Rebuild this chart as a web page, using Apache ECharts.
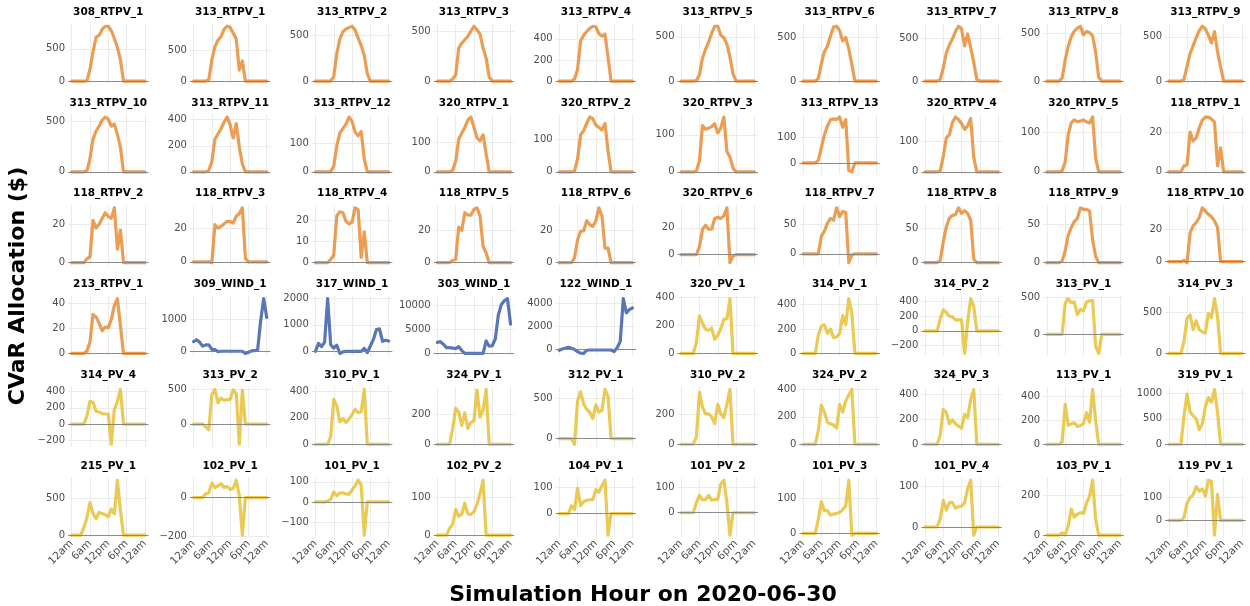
<!DOCTYPE html>
<html>
<head>
<meta charset="utf-8">
<script src="https://cdn.jsdelivr.net/npm/echarts@6/dist/echarts.min.js"></script>
<style>
  html, body { margin: 0; padding: 0; background: #fff; }
  #chart { width: 1250px; height: 606px; }
</style>
</head>
<body>
<div id="chart"></div>
<script>
// hourly points on 2020-06-30
const hours = [0, 1, 2, 3, 4, 5, 6, 7, 8, 9, 10, 11, 12, 13, 14, 15, 16, 17, 18, 19, 20, 21, 22, 23, 24];
const hourTicks = [0, 6, 12, 18, 24];
const hourLabels = ['12am', '6am', '12pm', '6pm', '12am'];

const panelNames = [
  '308_RTPV_1', '313_RTPV_1', '313_RTPV_2', '313_RTPV_3', '313_RTPV_4', '313_RTPV_5', '313_RTPV_6', '313_RTPV_7', '313_RTPV_8', '313_RTPV_9',
  '313_RTPV_10', '313_RTPV_11', '313_RTPV_12', '320_RTPV_1', '320_RTPV_2', '320_RTPV_3', '313_RTPV_13', '320_RTPV_4', '320_RTPV_5', '118_RTPV_1',
  '118_RTPV_2', '118_RTPV_3', '118_RTPV_4', '118_RTPV_5', '118_RTPV_6', '320_RTPV_6', '118_RTPV_7', '118_RTPV_8', '118_RTPV_9', '118_RTPV_10',
  '213_RTPV_1', '309_WIND_1', '317_WIND_1', '303_WIND_1', '122_WIND_1', '320_PV_1', '314_PV_1', '314_PV_2', '313_PV_1', '314_PV_3',
  '314_PV_4', '313_PV_2', '310_PV_1', '324_PV_1', '312_PV_1', '310_PV_2', '324_PV_2', '324_PV_3', '113_PV_1', '319_PV_1',
  '215_PV_1', '102_PV_1', '101_PV_1', '102_PV_2', '104_PV_1', '101_PV_2', '101_PV_3', '101_PV_4', '103_PV_1', '119_PV_1'
];

// y tick spacing of each panel, as printed
const yStep = [
  500, 500, 500, 500, 200, 500, 500, 500, 500, 500,
  500, 200, 100, 100, 100, 100, 100, 100, 100, 20,
  20, 20, 10, 20, 20, 20, 50, 50, 50, 20,
  20, 1000, 1000, 5000, 2000, 200, 200, 200, 500, 500,
  200, 500, 200, 200, 500, 200, 200, 200, 200, 500,
  500, 200, 100, 100, 100, 100, 100, 100, 200, 100
];

// CVaR allocation ($), one list per panel, hours 0..24
const row1 = [
  [0,0,0,0,0,5,180,450,680,710,800,850,850,780,660,520,330,0,0,0,0,0,0,0,0],
  [0,0,0,0,0,20,350,560,670,730,850,900,880,790,690,180,330,0,0,0,0,0,0,0,0],
  [0,0,0,0,0,0,50,300,460,540,570,585,600,560,470,390,280,80,0,0,0,0,0,0,0],
  [0,0,0,0,0,20,60,330,380,415,450,500,550,515,470,330,230,40,0,0,0,0,0,0,0],
  [0,0,0,0,0,20,110,380,435,470,500,520,515,450,425,445,225,0,0,0,0,0,0,0,0],
  [0,0,0,0,0,5,70,260,360,440,540,620,620,520,490,420,270,80,0,0,0,0,0,0,0],
  [0,0,0,0,0,30,200,340,400,520,620,630,580,460,500,370,190,0,0,0,0,0,0,0,0],
  [0,0,0,0,0,20,150,330,420,490,580,640,610,410,550,390,220,20,0,0,0,0,0,0,0],
  [0,0,0,0,0,30,220,360,460,520,550,570,480,515,505,470,300,40,0,0,0,0,0,0,0],
  [0,0,0,0,0,20,170,310,400,490,570,620,590,520,430,560,330,160,0,0,0,0,0,0,0]
];
const row2 = [
  [0,0,0,0,0,10,130,320,400,450,510,540,520,450,470,370,240,0,0,0,0,0,0,0,0],
  [0,0,0,0,0,10,80,250,290,330,380,420,360,260,370,190,60,0,0,0,0,0,0,0,0],
  [0,0,0,0,0,0,20,90,135,150,165,190,175,138,125,140,45,0,0,0,0,0,0,0,0],
  [0,0,0,0,0,5,35,110,130,150,175,185,150,115,105,125,60,0,0,0,0,0,0,0,0],
  [0,0,0,0,0,2,40,115,128,150,170,165,145,138,130,150,65,0,0,0,0,0,0,0,0],
  [0,0,0,0,0,2,30,125,115,118,122,130,105,118,148,55,40,10,0,0,0,0,0,0,0],
  [0,0,0,0,0,10,60,110,145,170,173,170,180,140,170,-30,-35,0,0,0,0,0,0,0,0],
  [0,0,0,0,0,3,50,110,120,160,178,170,157,138,150,173,47,0,0,0,0,0,0,0,0],
  [0,0,0,0,0,2,25,95,125,133,128,130,132,128,125,140,35,0,0,0,0,0,0,0,0],
  [0,0,0,0,0,3,3.5,20,15.5,17,22,26,27.5,27.5,26.5,25,3,12,0,0,0,0,0,0,0]
];
const row3 = [
  [0,0,0,0,0,2,3,22,18,20,23,26,24,23,28.5,7,17,0,0,0,0,0,0,0,0],
  [0,0,0,0,0,0,-0.5,22,20,21,22.5,24,24,23,27,28.5,32,2,0,0,0,0,0,0,0],
  [0,0,0,0,0,1.5,3.5,22,24,23.5,19.5,18.3,19,25.8,25,2.5,14.5,0,0,0,0,0,0,0,0],
  [0,0,0,0,0,1.5,2,22,20,31,29.5,29.5,33,34,29,10,6,0,0,0,0,0,0,0,0],
  [0,0,0,0,0,3,14,19.4,19.8,26,23.5,22.5,26,34,29,9,9,0,0,0,0,0,0,0,0],
  [0,0,0,0,0,0,6,19,22,19,19,27,28,27,29,35,-6,-1,0,0,0,0,0,0,0],
  [0,0,0,0,0,0,30,38,52,60,57,78,63,72,70,-15,-2,0,0,0,0,0,0,0,0],
  [0,0,0,0,0,3,30,52,65,69,70,80,72,76,72,62,5,0,0,0,0,0,0,0,0],
  [0,0,0,0,0,2,15,36,46,54,58,72,70,70,68,30,8,0,0,0,0,0,0,0,0],
  [0,0,0,0,0,0.8,-0.6,17.6,22,24,27,33,31,29,27.5,25,21,0,0,0,0,0,0,0,0]
];
const row4 = [
  [0,0,0,0,0,2,9,31,29,24,18,21,20.5,27,38,43.5,22,0,0,0,0,0,0,0,0],
  [300,360,280,160,200,200,60,50,-10,0,0,0,0,0,0,0,0,-70,-30,10,20,30,950,1650,1060],
  [0,300,180,350,1990,250,120,230,-80,-20,0,0,0,0,0,0,110,-50,200,450,820,850,380,420,390],
  [2300,2450,1900,1200,1200,1100,1000,1400,600,0,0,0,0,0,0,0,2600,1500,1600,3000,8000,10200,11000,11400,6100],
  [-80,20,100,180,100,-20,-200,-330,-360,-80,-60,-60,-60,-60,-60,-60,-60,-60,-190,140,690,4400,3170,3450,3590],
  [0,0,0,0,0,80,265,215,170,165,180,100,130,175,245,245,390,0,0,0,0,0,0,0,0],
  [0,0,0,0,0,150,225,235,165,200,130,135,165,310,235,450,330,0,0,0,0,0,0,0,0],
  [0,0,0,0,0,160,285,250,200,190,150,150,150,-310,120,440,330,0,0,0,0,0,0,0,0],
  [0,0,0,0,0,0,420,485,430,440,270,340,320,440,455,460,-160,-260,0,0,0,0,0,0,0],
  [0,0,0,0,0,150,430,470,290,400,290,265,250,490,440,670,450,0,0,0,0,0,0,0,0]
];
const row5 = [
  [0,0,0,0,0,100,280,265,160,150,130,125,125,-245,180,280,425,0,0,0,0,0,0,0,0],
  [0,0,0,0,-40,-80,420,495,305,370,340,350,350,487,440,-287,487,0,0,0,0,0,0,0,0],
  [0,0,0,0,0,60,340,290,170,195,165,190,225,265,240,245,415,0,0,0,0,0,0,0,0],
  [0,0,0,0,0,100,240,215,125,210,105,145,155,360,180,230,365,0,0,0,0,0,0,0,0],
  [0,0,0,0,0,-70,470,580,430,365,325,250,420,330,350,610,520,0,0,0,0,0,0,0,0],
  [0,0,0,0,0,50,350,250,205,205,185,140,270,205,180,270,370,0,0,0,0,0,0,0,0],
  [0,0,0,0,0,100,285,235,160,150,140,118,290,235,315,360,400,0,0,0,0,0,0,0,0],
  [0,0,0,0,0,70,280,255,165,195,165,145,130,240,215,360,440,0,0,0,0,0,0,0,0],
  [0,0,0,0,0,20,335,160,170,180,150,155,175,265,185,460,200,0,0,0,0,0,0,0,0],
  [0,0,0,0,0,560,990,640,560,500,290,400,740,920,830,1080,630,0,0,0,0,0,0,0,0]
];
const row6 = [
  [0,0,0,0,100,230,440,290,220,305,290,275,245,350,285,740,330,0,0,0,0,0,0,0,0],
  [0,0,0,0,20,25,75,52,60,72,52,58,42,48,90,10,-195,0,0,0,0,0,0,0,0],
  [0,0,0,0,5,13,50,30,45,45,40,38,60,80,108,85,-165,0,0,0,0,0,0,0,0],
  [0,0,0,0,18,28,68,50,56,85,56,55,62,82,110,146,0,0,0,0,0,0,0,0,0],
  [0,0,0,0,30,15,95,30,45,50,52,52,90,80,105,125,-80,0,0,0,0,0,0,0,0],
  [0,0,0,0,0,40,68,50,52,68,50,52,52,112,128,40,-88,0,0,0,0,0,0,0,0],
  [0,0,0,0,0,40,90,65,65,52,55,57,60,68,78,152,-5,0,0,0,0,0,0,0,0],
  [0,0,0,0,0,20,66,42,60,61,47,50,52,60,95,116,-20,0,0,0,0,0,0,0,0],
  [0,0,0,0,0,12,0,45,130,90,105,112,108,160,195,275,80,0,0,0,0,0,0,0,0],
  [0,0,0,0,0,12,75,97,110,145,125,135,105,172,167,-63,111,0,0,0,0,0,0,0,0]
];

const values = [...row1, ...row2, ...row3, ...row4, ...row5, ...row6];

const FONT = 'DejaVu Sans';
const colorFor = name => name.includes('RTPV') ? '#e88c35' : (name.includes('WIND') ? '#3d5fa8' : '#e6c136');
const fmtNum = v => (v < 0 ? '\u2212' + Math.abs(v) : String(Math.abs(v) < 1e-9 ? 0 : v));

function niceTicks(lo, hi, step) {
  const out = [];
  for (let v = Math.ceil(lo / step) * step; v <= hi + 1e-9; v += step) {
    out.push(Math.round(v * 1000) / 1000);
  }
  return out;
}

const chart = echarts.init(document.getElementById('chart'), null, { renderer: 'canvas' });

const option = {
  animation: false,
  backgroundColor: '#ffffff',
  textStyle: { fontFamily: FONT },
  grid: [],
  xAxis: [],
  yAxis: [],
  series: [],
  graphic: []
};

const colPitch = 121.9, rowPitch = 90.8;
const panelW = 80.5, panelH = 60.3;

panelNames.forEach((name, i) => {
  const r = Math.floor(i / 10), c = i % 10;
  const left = 68 + colPitch * c;
  const top = 23.5 + rowPitch * r;
  const vals = values[i];
  const lo = Math.min(...vals), hi = Math.max(...vals);
  const pad = (hi - lo) * 0.05;
  const yMin = lo - pad, yMax = hi + pad;
  const ticks = niceTicks(yMin, yMax, yStep[i]);

  option.grid.push({ left: left, top: top, width: panelW, height: panelH });

  option.xAxis.push({
    gridIndex: i,
    type: 'value',
    min: -1.2,
    max: 25.2,
    axisLine: { show: false },
    axisTick: { show: false, customValues: hourTicks },
    axisLabel: {
      show: r === 5,
      customValues: hourTicks,
      rotate: 45,
      margin: 4,
      fontSize: 10.5,
      color: '#4d4d4d',
      fontFamily: FONT,
      formatter: v => hourLabels[hourTicks.indexOf(v)] || ''
    },
    splitLine: { show: true, lineStyle: { color: '#ebebeb', width: 1 } }
  });

  option.yAxis.push({
    gridIndex: i,
    type: 'value',
    min: yMin,
    max: yMax,
    axisLine: { show: false },
    axisTick: { show: false, customValues: ticks },
    axisLabel: {
      customValues: ticks,
      margin: 3,
      fontSize: 10,
      color: '#4d4d4d',
      fontFamily: FONT,
      formatter: fmtNum
    },
    splitLine: { show: true, lineStyle: { color: '#ebebeb', width: 1 } }
  });

  option.series.push({
    type: 'line',
    name: name,
    xAxisIndex: i,
    yAxisIndex: i,
    data: hours.map((h, k) => [h, vals[k]]),
    symbol: 'none',
    showSymbol: false,
    silent: true,
    z: 3,
    lineStyle: { color: colorFor(name), width: 3.2, opacity: 0.85, join: 'round', cap: 'round' },
    markLine: {
      silent: true,
      symbol: 'none',
      label: { show: false },
      lineStyle: { color: '#7f7f7f', width: 1, type: 'solid', opacity: 0.9 },
      data: [{ yAxis: 0 }]
    }
  });

  option.graphic.push({
    type: 'text',
    x: left + panelW / 2,
    y: 12 + rowPitch * r,
    style: {
      text: name,
      align: 'center',
      verticalAlign: 'middle',
      textAlign: 'center',
      textVerticalAlign: 'middle',
      fontFamily: FONT,
      fontWeight: 'bold',
      fontSize: 10.5,
      fill: '#000000'
    }
  });
});

option.graphic.push({
  type: 'text',
  x: 18,
  y: 286,
  rotation: Math.PI / 2,
  style: {
    text: 'CVaR Allocation ($)',
    align: 'center',
    verticalAlign: 'middle',
    textAlign: 'center',
    textVerticalAlign: 'middle',
    fontFamily: FONT,
    fontWeight: 'bold',
    fontSize: 22,
    fill: '#000000'
  }
});

option.graphic.push({
  type: 'text',
  x: 643,
  y: 595,
  style: {
    text: 'Simulation Hour on 2020-06-30',
    align: 'center',
    verticalAlign: 'middle',
    textAlign: 'center',
    textVerticalAlign: 'middle',
    fontFamily: FONT,
    fontWeight: 'bold',
    fontSize: 22,
    fill: '#000000'
  }
});

chart.setOption(option);
</script>
</body>
</html>
